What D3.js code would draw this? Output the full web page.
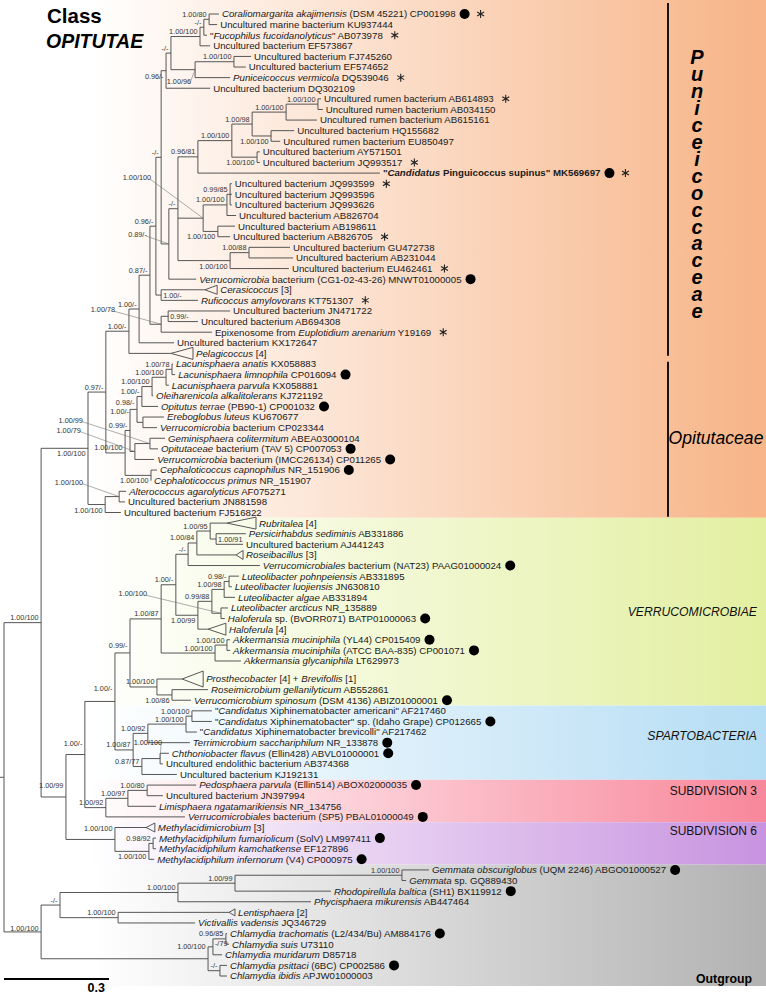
<!DOCTYPE html>
<html><head><meta charset="utf-8">
<script src="https://cdn.jsdelivr.net/npm/d3@7"></script>
<style>body{margin:0;background:#fff}svg{display:block}</style>
</head><body>
<svg id="c" width="766" height="995"></svg>
<script>
// ---------- DATA ----------
// internal nodes: [id, parent, depth from root (subst./site), support (PP/BS)]
const internalNodes = [
 ["V","R",0.106,"1.00/100"],["OG","R",0.106,"1.00/100"],
 ["O","V",0.240,"1.00/100"],["W","V",0.177,"1.00/99"],
 ["PU0","O",0.291,"0.97/-"],["ALT","O",0.289,"1.00/100"],["ALT1","ALT",0.329,"1.00/100"],
 ["OPC","PU0",0.346,"1.00/100"],["OPb","OPC",0.360,"0.99/-"],["La5","OPb",0.380,"0.98/-"],
 ["La4","La5",0.394,"1.00/-"],["La3","La4",0.423,"1.00/100"],["La2","La3",0.463,"1.00/100"],
 ["La1","La2",0.480,"1.00/78"],["EC","La5",0.397,"1.00/-"],["G2","OPb",0.374,"1.00/79"],
 ["G1","G2",0.417,"1.00/99"],["CEPH","OPC",0.420,"1.00/100"],
 ["PU1","PU0",0.357,"1.00/-"],["PU3","PU1",0.386,"1.00/-"],["PU4","PU3",0.417,"0.87/-"],
 ["N","PU4",0.434,"0.96/-"],["R1","N",0.449,"1.00/-"],["Q1","PU4",0.449,"1.00/78"],
 ["JNAB","Q1",0.469,"0.99/-"],["PU6","N",0.449,"-/-"],["X","PU6",0.471,"0.89/-"],
 ["Y","X",0.497,"-/-"],["A8","PU6",0.463,"0.96/-"],["A7","A8",0.477,"-/-"],
 ["A3","A7",0.560,"1.00/100"],["A2","A3",0.571,"-/-"],["A1","A2",0.586,"1.00/80"],
 ["A6","A7",0.546,"1.00/96"],["A4","A6",0.657,"1.00/100"],
 ["B7","Y",0.554,"0.96/81"],["B5","B7",0.651,"1.00/100"],["B3","B5",0.709,"1.00/98"],
 ["B2","B3",0.806,"1.00/100"],["B1","B2",0.897,"1.00/100"],["B4","B3",0.763,"1.00/100"],
 ["B6","B5",0.723,"1.00/100"],
 ["C5","Y",0.569,"1.00/100"],["C2","C5",0.637,"1.00/100"],["C1","C2",0.646,"0.99/85"],
 ["C4","C5",0.611,"1.00/100"],["C7","Y",0.646,"1.00/100"],["C6","C7",0.700,"1.00/88"],
 ["W1","W",0.231,"1.00/-"],["W2","W1",0.317,"1.00/-"],["V1","W2",0.360,"0.99/-"],
 ["V2","V1",0.449,"1.00/87"],["V3","V2",0.491,"1.00/-"],["V5","V3",0.526,"-/-"],
 ["V6","V5",0.551,"1.00/84"],["V7","V6",0.589,"1.00/95"],["V8","V7",0.606,"1.00/91"],
 ["H","V3",0.554,"1.00/99"],["Lu3","H",0.594,"0.99/88"],["Lu2","Lu3",0.629,"1.00/98"],
 ["Lu1","Lu2",0.643,"0.98/-"],["Lu4","Lu3",0.620,"1.00/100"],
 ["Akk","V2",0.603,"1.00/100"],["Akk2","Akk",0.637,"1.00/100"],
 ["V4","V1",0.437,"1.00/100"],["V4a","V4",0.480,"1.00/86"],
 ["SPr","W2",0.369,"1.00/87"],["SPa","SPr",0.411,"1.00/92"],["X2","SPa",0.520,"1.00/100"],
 ["X1","X2",0.537,"1.00/100"],["SPb","SPr",0.394,"0.87/77"],["Chth","SPb",0.446,"1.00/100"],
 ["S3","W1",0.291,"1.00/92"],["S3a","S3",0.354,"1.00/97"],["S3b","S3a",0.409,"1.00/80"],
 ["S6","W",0.317,"1.00/100"],["Mphil","S6",0.414,"1.00/100"],["M1","Mphil",0.426,"0.98/92"],
 ["PL","OG",0.160,"-/-"],["PLa","PL",0.497,"1.00/100"],["PLb","PLa",0.660,"1.00/99"],
 ["GE","PLb",1.137,"1.00/100"],["LE","PL",0.326,"1.00/100"],
 ["CH","OG",0.583,"1.00/100"],["C1c","CH",0.597,"-/79"],["C3c","C1c",0.634,"0.96/85"],
 ["C2c","CH",0.617,"-/-"]
];

// leaves: [label (*italic*), parent, depth, marks (d = genome dot, s = asterisk, b = bold)]
const leaves = [
 ["*Coraliomargarita akajimensis* (DSM 45221) CP001998","A1",0.614,"ds"],
 ["Uncultured marine bacterium KU937444","A1",0.609,""],
 ["\"*Fucophilus fucoidanolyticus*\" AB073978","A2",0.580,"s"],
 ["Uncultured bacterium EF573867","A3",0.589,""],
 ["Uncultured bacterium FJ745260","A4",0.706,""],
 ["Uncultured bacterium EF574652","A4",0.691,""],
 ["*Puniceicoccus vermicola* DQ539046","A6",0.646,"s"],
 ["Uncultured bacterium DQ302109","A8",0.589,""],
 ["Uncultured rumen bacterium AB614893","B1",0.906,"s"],
 ["Uncultured rumen bacterium AB034150","B1",0.911,""],
 ["Uncultured rumen bacterium AB615161","B2",0.894,""],
 ["Uncultured bacterium HQ155682","B4",0.829,""],
 ["Uncultured rumen bacterium EU850497","B4",0.789,""],
 ["Uncultured bacterium AY571501","B6",0.731,""],
 ["Uncultured bacterium JQ993517","B6",0.731,"s"],
 ["\"*Candidatus* Pinguicoccus supinus\" MK569697","B7",1.074,"bds"],
 ["Uncultured bacterium JQ993599","C1",0.651,"s"],
 ["Uncultured bacterium JQ993596","C1",0.651,""],
 ["Uncultured bacterium JQ993626","C1",0.651,""],
 ["Uncultured bacterium AB826704","C2",0.663,""],
 ["Uncultured bacterium AB198611","C4",0.660,""],
 ["Uncultured bacterium AB826705","C4",0.646,"s"],
 ["Uncultured bacterium GU472738","C6",0.817,""],
 ["Uncultured bacterium AB231044","C6",0.826,""],
 ["Uncultured bacterium EU462461","C7",0.814,"s"],
 ["*Verrucomicrobia* bacterium (CG1-02-43-26) MNWT01000005","X",0.549,"d"],
 ["*Cerasicoccus* [3]","R1",0.574,""],
 ["*Ruficoccus amylovorans* KT751307","R1",0.554,"s"],
 ["Uncultured bacterium JN471722","JNAB",0.646,""],
 ["Uncultured bacterium AB694308","JNAB",0.554,""],
 ["Epixenosome from *Euplotidium arenarium* Y19169","Q1",0.594,"s"],
 ["Uncultured bacterium KX172647","PU3",0.486,""],
 ["*Pelagicoccus* [4]","PU1",0.477,""],
 ["*Lacunisphaera anatis* KX058883","La1",0.483,""],
 ["*Lacunisphaera limnophila* CP016094","La1",0.489,"d"],
 ["*Lacunisphaera parvula* KX058881","La2",0.471,""],
 ["*Oleiharenicola alkalitolerans* KJ721192","La3",0.426,""],
 ["*Opitutus terrae* (PB90-1) CP001032","La4",0.440,"d"],
 ["*Ereboglobus luteus* KU670677","EC",0.457,""],
 ["*Verrucomicrobia* bacterium CP023344","EC",0.437,""],
 ["*Geminisphaera colitermitum* ABEA03000104","G1",0.460,""],
 ["*Opitutaceae* bacterium (TAV 5) CP007053","G1",0.440,"d"],
 ["*Verrucomicrobia* bacterium (IMCC26134) CP011265","G2",0.429,"d"],
 ["*Cephaloticoccus capnophilus* NR_151906","CEPH",0.437,"d"],
 ["*Cephaloticoccus primus* NR_151907","CEPH",0.420,""],
 ["*Alterococcus agarolyticus* AF075271","ALT1",0.349,""],
 ["Uncultured bacterium JN881598","ALT1",0.346,""],
 ["Uncultured bacterium FJ516822","ALT",0.334,""],
 ["*Rubritalea* [4]","V7",0.637,""],
 ["*Persicirhabdus sediminis* AB331886","V8",0.691,""],
 ["Uncultured bacterium AJ441243","V8",0.683,""],
 ["*Roseibacillus* [3]","V6",0.663,""],
 ["*Verrucomicrobiales* bacterium (NAT23) PAAG01000024","V5",0.731,"d"],
 ["*Luteolibacter pohnpeiensis* AB331895","Lu1",0.671,""],
 ["*Luteolibacter luojiensis* JN630810","Lu1",0.651,""],
 ["*Luteolibacter algae* AB331894","Lu2",0.660,""],
 ["*Luteolibacter arcticus* NR_135889","Lu4",0.640,""],
 ["*Haloferula* sp. (BvORR071) BATP01000063","Lu4",0.631,"d"],
 ["*Haloferula* [4]","H",0.583,""],
 ["*Akkermansia muciniphila* (YL44) CP015409","Akk2",0.646,"d"],
 ["*Akkermansia muciniphila* (ATCC BAA-835) CP001071","Akk2",0.646,"d"],
 ["*Akkermansia glycaniphila* LT629973","Akk",0.677,""],
 ["*Prosthecobacter* [4] + *Brevifollis* [1]","V4",0.509,""],
 ["*Roseimicrobium gellanilyticum* AB552861","V4a",0.583,""],
 ["*Verrucomicrobium spinosum* (DSM 4136) ABIZ01000001","V4a",0.534,"d"],
 ["\"*Candidatus* Xiphinematobacter americani\" AF217460","X1",0.594,""],
 ["\"*Candidatus* Xiphinematobacter\" sp. (Idaho Grape) CP012665","X1",0.594,"d"],
 ["\"*Candidatus* Xiphinematobacter brevicolli\" AF217462","X2",0.551,""],
 ["*Terrimicrobium sacchariphilum* NR_133878","SPa",0.531,"d"],
 ["*Chthoniobacter flavus* (Ellin428) ABVL01000001","Chth",0.471,"d"],
 ["Uncultured endolithic bacterium AB374368","Chth",0.454,""],
 ["Uncultured bacterium KJ192131","SPb",0.494,""],
 ["*Pedosphaera parvula* (Ellin514) ABOX02000035","S3b",0.549,"d"],
 ["Uncultured bacterium JN397994","S3b",0.454,""],
 ["*Limisphaera ngatamarikiensis* NR_134756","S3a",0.434,""],
 ["*Verrucomicrobiales* bacterium (SP5) PBAL01000049","S3",0.517,"d"],
 ["*Methylacidimicrobium* [3]","S6",0.406,""],
 ["*Methylacidiphilum fumariolicum* (SolV) LM997411","M1",0.434,"d"],
 ["*Methylacidiphilum kamchatkense* EF127896","M1",0.434,""],
 ["*Methylacidiphilum infernorum* (V4) CP000975","Mphil",0.429,"d"],
 ["*Gemmata obscuriglobus* (UQM 2246) ABGO01000527","GE",1.214,"d"],
 ["*Gemmata* sp. GQ889430","GE",1.149,""],
 ["*Rhodopirellula baltica* (SH1) BX119912","PLb",0.934,"d"],
 ["*Phycisphaera mikurensis* AB447464","PLa",0.877,""],
 ["*Lentisphaera* [2]","LE",0.643,""],
 ["*Victivallis vadensis* JQ346729","LE",0.546,""],
 ["*Chlamydia trachomatis* (L2/434/Bu) AM884176","C3c",0.637,"d"],
 ["*Chlamydia suis* U73110","C3c",0.643,""],
 ["*Chlamydia muridarum* D85718","C1c",0.623,""],
 ["*Chlamydia psittaci* (6BC) CP002586","C2c",0.637,"d"],
 ["*Chlamydia ibidis* APJW01000003","C2c",0.637,""]
];

// collapsed clades: [leaf number, depth of clade tip, number of taxa]
const collapsedClades = [[27,0.609,3],[33,0.540,4],[49,0.720,4],[52,0.683,3],[59,0.634,4],[63,0.569,5],[77,0.431,3],[85,0.660,2]];

// shaded groups
const groupNames = ["Opitutae","VERRUCOMICROBIAE","SPARTOBACTERIA","SUBDIVISION 3","SUBDIVISION 6","Outgroup"];
const groupRanges = [[1,48],[49,65],[66,72],[73,76],[77,80],[81,91]];
const groupColors = ["#f7b487","#e3efa0","#b5ddf4","#f8879b","#c893e0","#b2b2b2"];

// family bars: [name, first leaf, last leaf]
const familyBars = [["Puniceicoccaceae",1,33],["Opitutaceae",34,48]];

const scaleBarValue = 0.3;

// ---------- LAYOUT CONFIG (label placement) ----------
const labelModes = {
 OG:["dy",-1],O:["below"],H:["below"],B4:["below"],B6:["below"],C4:["below"],C7:["below"],
 CEPH:["below"],V4a:["below"],Mphil:["below"],A8:["below"],ALT:["below"],
 W2:["dy",-10.3],W1:["dy",-8.6],W:["dy",-9],S6:["dy",-8],CH:["dy",-9.5],V1:["dy",-5],La5:["dy",-4.5],
 EC:["offset",-11.5,-6],
 R1:["inside",8.5],JNAB:["inside",8.5],V8:["inside",8.5],C1c:["inside",7.5],
 A6:["leader",-4,14],C5:["leader",-52,-38],Q1:["leader",-46,-12],X:["leader",-22,-7],
 Lu4:["leader",-74,-17],G1:["leader",-67,-21],G2:["leader",-54,-19],ALT1:["leader",-36,-12],
 Chth:["leader",2,-14]
};

const FONT = "'Liberation Sans', Arial, Helvetica, sans-serif";
const svg = d3.select("#c").style("font-family", FONT);
const xScale = d3.scaleLinear().domain([0, 1]).range([4, 354]);

// leaf slots: large collapsed clades get a little extra room
const collapsedMap = new Map(collapsedClades.map(c => [c[0], c]));
let acc = 0;
const slots = leaves.map((d, i) => {
  const c = collapsedMap.get(i + 1);
  if (i > 0) acc += 1 + (c && c[2] >= 5 ? 0.7 : 0);
  return acc;
});
const yScale = d3.scaleLinear().domain([0, acc]).range([14, 976]);
const leafY = i => yScale(slots[i]);

// ---------- build tree ----------
const rows = [{id:"R", parent:"", depth:0, support:null}]
 .concat(internalNodes.map(d => ({id:d[0], parent:d[1], depth:d[2], support:d[3]})))
 .concat(leaves.map((d,i) => ({id:"t"+(i+1), parent:d[1], depth:d[2], name:d[0], marks:d[3], leafIndex:i})));
const root = d3.stratify().id(d => d.id).parentId(d => d.parent)(rows);
root.eachAfter(n => {
  n.px = xScale(n.data.depth);
  if (!n.children) n.py = leafY(n.data.leafIndex);
  else { const ys = n.children.map(c => c.py); n.py = (d3.min(ys) + d3.max(ys)) / 2; }
});
const nodes = root.descendants();
const byId = new Map(nodes.map(n => [n.id, n]));

// ---------- backgrounds ----------
const defs = svg.append("defs");
const mid = (a, b) => (leafY(a - 1) + leafY(b - 1)) / 2; // between leaf numbers a,b (1-based)
const bands = groupRanges.map((r, i) => {
  const top = r[0] === 1 ? 0 : mid(r[0] - 1, r[0]);
  const bottom = r[1] === leaves.length ? leafY(leaves.length - 1) + 10 : mid(r[1], r[1] + 1);
  return {name: groupNames[i], top, bottom, color: groupColors[i], i};
});
bands.forEach(b => {
  const g = defs.append("linearGradient").attr("id", "g" + b.i)
    .attr("gradientUnits", "userSpaceOnUse").attr("x1", 90).attr("x2", 766).attr("y1", 0).attr("y2", 0);
  g.append("stop").attr("offset", 0).attr("stop-color", "#ffffff");
  g.append("stop").attr("offset", 1).attr("stop-color", b.color);
});
svg.append("g").selectAll("rect").data(bands).join("rect")
  .attr("x", 0).attr("width", 766).attr("y", d => d.top).attr("height", d => d.bottom - d.top)
  .attr("fill", d => `url(#g${d.i})`);

// family bars
const barX = 668;
const famBounds = familyBars.map(f => {
  const top = f[1] === 1 ? 3 : mid(f[1] - 1, f[1]) + 3;
  const bottom = f[2] === 48 ? bands[0].bottom - 1 : mid(f[2], f[2] + 1) - 3;
  return {name: f[0], top, bottom};
});
svg.append("g").selectAll("line").data(famBounds).join("line")
  .attr("x1", barX).attr("x2", barX).attr("y1", d => d.top).attr("y2", d => d.bottom)
  .attr("stroke", "#000").attr("stroke-width", 1.8);

// ---------- tree lines ----------
const gTree = svg.append("g").attr("stroke", "#4d4d4d").attr("stroke-width", 0.95).attr("fill", "none");
gTree.selectAll("line.h").data(nodes.filter(n => n.parent)).join("line").attr("class", "h")
  .attr("x1", d => d.parent.px).attr("x2", d => d.px).attr("y1", d => d.py).attr("y2", d => d.py);
gTree.selectAll("line.v").data(nodes.filter(n => n.children)).join("line").attr("class", "v")
  .attr("x1", d => d.px).attr("x2", d => d.px)
  .attr("y1", d => d3.min(d.children, c => c.py)).attr("y2", d => d3.max(d.children, c => c.py));
gTree.append("line").attr("x1", 0).attr("x2", root.px).attr("y1", root.py).attr("y2", root.py);

// collapsed triangles
const halfH = n => ({2: 3.5, 3: 4.5, 4: 6, 5: 8}[n] || 5);
gTree.selectAll("path.tri").data(collapsedClades).join("path").attr("class", "tri")
  .attr("d", c => {
    const n = byId.get("t" + c[0]); const bx = xScale(c[1]); const h = halfH(c[2]);
    return `M${n.px},${n.py}L${bx},${n.py - h}L${bx},${n.py + h}Z`;
  });

// ---------- support labels ----------
const gSup = svg.append("g").attr("font-size", 7.3).attr("fill", "#333");
nodes.filter(n => n.children && n.data.support).forEach(n => {
  const mode = labelModes[n.id] || ["above"];
  let x = n.px - 2.5, y = n.py - 2.5, anchor = "end";
  if (mode[0] === "below") { y = n.py + 8; }
  else if (mode[0] === "dy") { y = n.py + mode[1]; }
  else if (mode[0] === "offset") { x = n.px - 2.5 + mode[1]; y = n.py - 2.5 + mode[2]; }
  else if (mode[0] === "inside") { x = n.px + 2; anchor = "start"; y = d3.min(n.children, c => c.py) + mode[1]; }
  else if (mode[0] === "leader") {
    x = n.px + mode[1]; y = n.py + mode[2];
    gSup.append("line").attr("x1", x - 1).attr("y1", y - 1).attr("x2", n.px).attr("y2", n.py)
      .attr("stroke", "#777").attr("stroke-width", 0.6);
  }
  gSup.append("text").attr("x", x).attr("y", y).attr("text-anchor", anchor).text(n.data.support);
});

// ---------- leaf labels ----------
const gLeaf = svg.append("g").attr("font-size", 9.7).attr("fill", "#1a1a1a");
nodes.filter(n => !n.children).forEach(n => {
  const num = n.data.leafIndex + 1;
  const col = collapsedMap.get(num);
  const x0 = (col ? xScale(col[1]) : n.px) + 3;
  const t = gLeaf.append("text").attr("x", x0).attr("y", n.py + 3.4);
  if (n.data.marks.includes("b")) t.attr("font-weight", "bold");
  n.data.name.split("*").forEach((seg, i) => {
    if (!seg) return;
    const ts = t.append("tspan").text(seg);
    if (i % 2 === 1) ts.attr("font-style", "italic");
  });
  const w = t.node().getComputedTextLength();
  let mx = x0 + w;
  if (n.data.marks.includes("d")) {
    mx += 9;
    gLeaf.append("circle").attr("cx", mx).attr("cy", n.py).attr("r", 5).attr("fill", "#000");
    mx += 4;
  }
  if (n.data.marks.includes("s")) {
    mx += 12;
    const r = 4;
    const path = [90, 30, 150].map(a => {
      const dx = r * Math.cos(a * Math.PI / 180), dy = r * Math.sin(a * Math.PI / 180);
      return `M${mx - dx},${n.py - dy}L${mx + dx},${n.py + dy}`;
    }).join("");
    gLeaf.append("path").attr("d", path).attr("stroke", "#222").attr("stroke-width", 1.1);
  }
});

// ---------- titles & group labels ----------
svg.append("text").attr("x", 47).attr("y", 23).attr("font-size", 20.5).attr("font-weight", "bold").text("Class");
svg.append("text").attr("x", 46).attr("y", 48).attr("font-size", 19.5).attr("font-weight", "bold")
  .attr("font-style", "italic").text("OPITUTAE");

// vertical family name, letters stacked upright in one text run
const vt = svg.append("text").attr("x", 697).attr("y", 0)
  .attr("font-size", 20).attr("font-weight", "bold").attr("font-style", "italic")
  .style("writing-mode", "vertical-rl").style("text-orientation", "upright")
  .text(famBounds[0].name);
(function fitVertical() {
  const n = famBounds[0].name.length, step = 16.95;
  let bb = vt.node().getBBox();
  const adv = bb.height / n;
  vt.attr("letter-spacing", step - adv);
  bb = vt.node().getBBox();
  vt.attr("y", 46 - bb.y);
})();
svg.append("text").attr("x", 716).attr("y", 444).attr("text-anchor", "middle")
  .attr("font-size", 17.6).attr("font-style", "italic").text(famBounds[1].name);

const bandLabel = (b, opts) => svg.append("text").attr("x", 757).attr("y", (b.top + b.bottom) / 2 + opts.dy)
  .attr("text-anchor", "end").attr("font-size", opts.size)
  .attr("font-style", opts.italic ? "italic" : null).attr("fill", "#111").text(b.name);
bandLabel(bands[1], {dy: 4.5, size: 12.2, italic: true});
bandLabel(bands[2], {dy: -3, size: 12.2, italic: true});
bandLabel(bands[3], {dy: -6, size: 12, italic: false});
bandLabel(bands[4], {dy: -8, size: 12, italic: false});
svg.append("text").attr("x", 752).attr("y", bands[5].bottom - 3).attr("text-anchor", "end")
  .attr("font-size", 12.3).attr("font-weight", "bold").text(bands[5].name);

// ---------- scale bar ----------
const sbY = 979;
svg.append("line").attr("x1", xScale(0)).attr("x2", xScale(scaleBarValue)).attr("y1", sbY).attr("y2", sbY)
  .attr("stroke", "#000").attr("stroke-width", 2);
svg.append("text").attr("x", xScale(scaleBarValue) - 4).attr("y", sbY + 13).attr("text-anchor", "end")
  .attr("font-size", 12.5).attr("font-weight", "bold").text(scaleBarValue);
</script>
</body></html>
